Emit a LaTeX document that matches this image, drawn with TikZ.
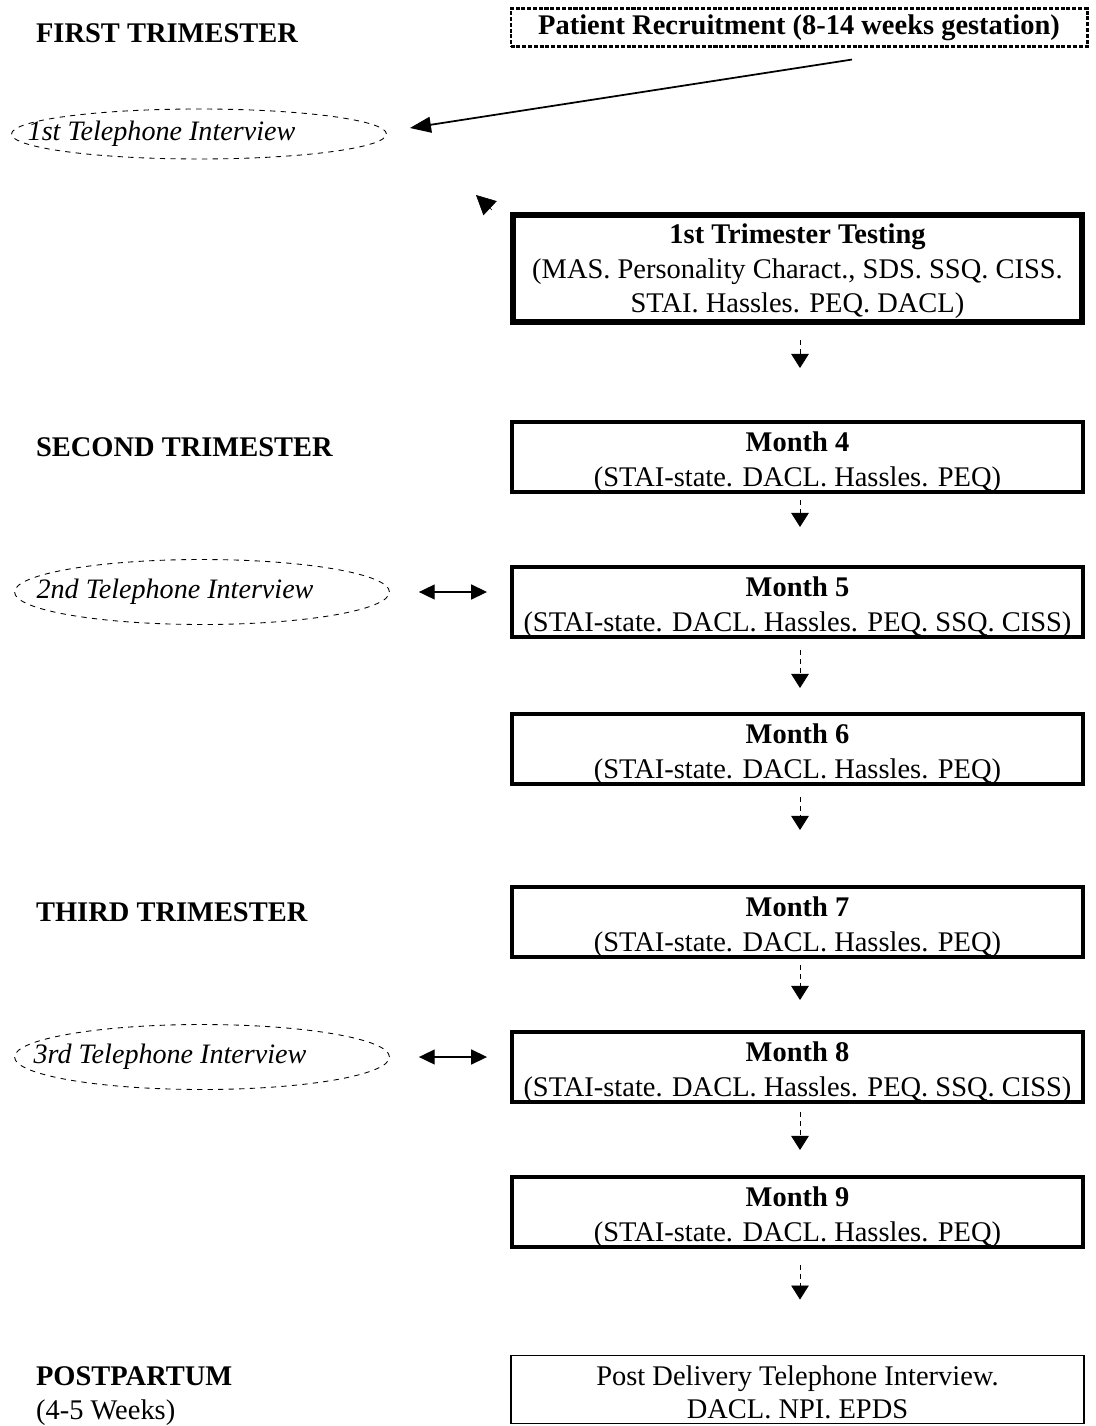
\documentclass[tikz,border=0pt]{standalone}
\usepackage{fontspec}
\setmainfont{Liberation Serif}
\usetikzlibrary{shapes.geometric,arrows.meta}
\newcommand\monthhead[1]{\rule{0pt}{0.48cm}\textbf{#1}}

\begin{document}
\begin{tikzpicture}[x=0.02cm, y=-0.02cm,
	every node/.style={font=\fontsize{16.2}{19}\selectfont, align=center, inner sep=1pt},
	stage/.style={anchor=west, align=left, font=\fontsize{16.2}{19}\selectfont\bfseries},
	box/.style={draw, rectangle, minimum width=11.42cm, minimum height=1.4cm, line width=2.3pt},
	monthbox/.style={box, inner ysep=0pt},
	phone/.style={draw, ellipse, dashed, line width=0.5pt, minimum width=7.5cm, font=\fontsize{16}{19}\selectfont\itshape},
	down/.style={densely dashed, line width=0.5pt, -{Triangle[width=10pt,length=8pt]}},
	both/.style={line width=0.8pt, {Triangle[width=8.5pt,length=9pt]}-{Triangle[width=8.5pt,length=9pt]}}
	]
	\useasboundingbox (0,0) rectangle (1095,1426);

	% trimester labels
	\node[stage] (first) at (34,33) {FIRST TRIMESTER};
	\node[stage] (second) at (34,447) {SECOND TRIMESTER};
	\node[stage] (third) at (34,912) {THIRD TRIMESTER};
	\node[stage] (post) at (34,1396) {POSTPARTUM\\\mdseries (4-5 Weeks)};

	% telephone interviews
	\node[phone, minimum height=1.0cm] (tel1) at (199,134) {\makebox[0pt]{1st Telephone Interview\hspace*{1.5cm}}};
	\node[phone, minimum height=1.3cm] (tel2) at (202,592) {\makebox[0pt]{2nd Telephone Interview\hspace*{1.08cm}}};
	\node[phone, minimum height=1.3cm] (tel3) at (202,1057) {\makebox[0pt]{3rd Telephone Interview\hspace*{1.28cm}}};

	% testing sessions
	\node[box, densely dotted, line width=1.2pt, minimum width=11.54cm, minimum height=0.76cm] (recruit) at (799,27.5) {\bfseries Patient Recruitment (8-14 weeks gestation)};
	\node[box, line width=3.4pt, minimum width=11.38cm, minimum height=2.14cm] (testing) at (797.5,268.5) {\rule{0pt}{0.5cm}\textbf{1st Trimester Testing}\\[1pt] (MAS. Personality Charact., SDS. SSQ. CISS.\\ STAI. Hassles. PEQ. DACL)};
	\node[monthbox] (month4) at (797.5,457) {\monthhead{Month 4}\\[1pt] \smash{(STAI-state. DACL. Hassles. PEQ)}};
	\node[monthbox] (month5) at (797.5,602) {\monthhead{Month 5}\\[1pt] \smash{(STAI-state. DACL. Hassles. PEQ. SSQ. CISS)}};
	\node[monthbox] (month6) at (797.5,749) {\monthhead{Month 6}\\[1pt] \smash{(STAI-state. DACL. Hassles. PEQ)}};
	\node[monthbox] (month7) at (797.5,922) {\monthhead{Month 7}\\[1pt] \smash{(STAI-state. DACL. Hassles. PEQ)}};
	\node[monthbox] (month8) at (797.5,1067) {\monthhead{Month 8}\\[1pt] \smash{(STAI-state. DACL. Hassles. PEQ. SSQ. CISS)}};
	\node[monthbox] (month9) at (797.5,1212) {\monthhead{Month 9}\\[1pt] \smash{(STAI-state. DACL. Hassles. PEQ)}};
	\node[box, line width=1.1pt, minimum width=11.46cm, minimum height=1.36cm] (delivery) at (797.5,1389.5) {\rule{0pt}{0.5cm}Post Delivery Telephone Interview.\\ DACL. NPI. EPDS};

	\coordinate (loosetail) at (492,210);
	\coordinate (loose) at (476,195);

	\draw[line width=1pt, -{Triangle[width=9pt,length=12pt]}] ([xshift=1.06cm,yshift=-0.24cm]recruit.south) -- ([xshift=0.46cm,yshift=0.12cm]tel1.east);
	\draw[line width=0.3pt, -{Triangle[width=11pt,length=11pt]}] (loosetail) -- (loose);

	\draw[down, shorten <=0.3cm, shorten >=1.04cm] ([xshift=0.05cm]testing.south) -- ([xshift=0.05cm]month4.north);
	\draw[down, shorten <=0.12cm, shorten >=0.76cm] ([xshift=0.05cm]month4.south) -- ([xshift=0.05cm]month5.north);
	\draw[down, shorten <=0.22cm, shorten >=0.48cm] ([xshift=0.05cm]month5.south) -- ([xshift=0.05cm]month6.north);
	\draw[down, shorten <=0.22cm, shorten >=1.1cm] ([xshift=0.05cm]month6.south) -- ([xshift=0.05cm]month7.north);
	\draw[down, shorten <=0.12cm, shorten >=0.6cm] ([xshift=0.05cm]month7.south) -- ([xshift=0.05cm]month8.north);
	\draw[down, shorten <=0.16cm, shorten >=0.5cm] ([xshift=0.05cm]month8.south) -- ([xshift=0.05cm]month9.north);
	\draw[down, shorten <=0.32cm, shorten >=1.1cm] ([xshift=0.05cm]month9.south) -- ([xshift=0.05cm]delivery.north);

	\draw[both, shorten <=0.58cm, shorten >=0.46cm] (tel2.east) -- (tel2.east -| month5.west);
	\draw[both, shorten <=0.58cm, shorten >=0.46cm] (tel3.east) -- (tel3.east -| month8.west);
\end{tikzpicture}
\end{document}
